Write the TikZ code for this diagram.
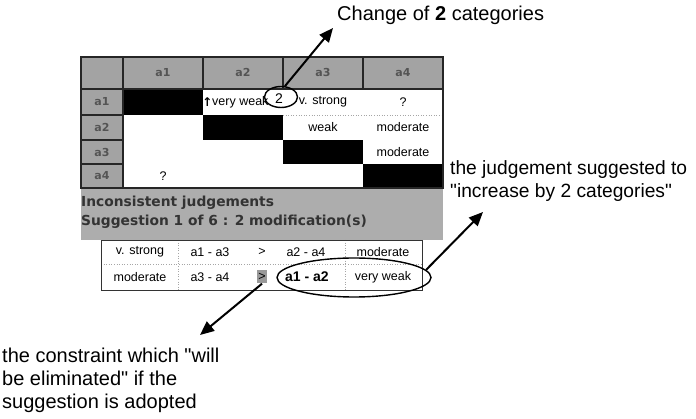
\documentclass[tikz,border=0pt]{standalone}
\usepackage{fontspec}
\setmainfont{Liberation Sans}
\newfontfamily\dvs{DejaVu Sans}
\usetikzlibrary{arrows.meta,shapes.geometric}
\definecolor{hdrgray}{gray}{0.64}
\definecolor{pnlgray}{gray}{0.68}
\definecolor{lblgray}{gray}{0.33}
\begin{document}
\begin{tikzpicture}[x=1pt,y=-1pt,
  cell/.style={font=\fontsize{12.5}{14}\selectfont, inner sep=0pt},
  hlabel/.style={font=\dvs\bfseries\fontsize{11}{13}\selectfont, text=lblgray, inner sep=0pt},
  note/.style={font=\fontsize{20}{23}\selectfont, align=left, inner sep=0pt},
  pnltext/.style={font=\dvs\bfseries\fontsize{13.8}{16}\selectfont, text=black!80, inner sep=0pt, anchor=west},
  gridline/.style={draw=black!85, line width=1.3pt},
  thinline/.style={draw=black!80, line width=0.8pt},
  dotline/.style={draw=black!35, dotted, line width=0.6pt},
  arr/.style={-{Triangle[length=14pt,width=12pt]}, line width=2pt},
  ring/.style={draw, ellipse, line width=1.4pt, inner sep=0pt}
]
\useasboundingbox (0,0) rectangle (696,419);
\fill[white] (0,0) rectangle (696,419);

% ---- matrix table ----
\fill[hdrgray] (81,57) rectangle (443,89);
\fill[hdrgray] (81,89) rectangle (123,188);
\fill[pnlgray] (81,188) rectangle (443,240);
\fill[white] (123,89) rectangle (443,188);
\fill[black] (123,89) rectangle (203,115);
\fill[black] (203,115) rectangle (283,140);
\fill[black] (283,140) rectangle (363,164);
\fill[black] (363,164) rectangle (443,188);
\draw[dotline] (283,115) -- (443,115);
\draw[gridline] (81,57) rectangle (443,188);
\draw[gridline] (123,57) -- (123,188);
\draw[gridline] (203,57) -- (203,89);
\draw[gridline] (283,57) -- (283,89);
\draw[gridline] (363,57) -- (363,89);
\draw[gridline] (81,89) -- (443,89);
\draw[gridline] (81,115) -- (123,115);
\draw[gridline] (81,140) -- (123,140);
\draw[gridline] (81,164) -- (123,164);

\node[hlabel] (h1) at (163,73) {a1};
\node[hlabel] (h2) at (243,73) {a2};
\node[hlabel] (h3) at (323,73) {a3};
\node[hlabel] (h4) at (403,73) {a4};
\node[hlabel] (r1) at (102,102) {a1};
\node[hlabel] (r2) at (102,127.5) {a2};
\node[hlabel] (r3) at (102,152) {a3};
\node[hlabel] (r4) at (102,176) {a4};

\node[cell, font=\dvs\bfseries\fontsize{12}{14}\selectfont] (up) at (207.5,102) {↑};
\node[cell, anchor=west] (c12) at (212,102) {very weak};
\node[cell] (c13) at (323,102) {v. strong};
\node[cell] (c14) at (403,102) {?};
\node[cell] (c23) at (323,127.5) {weak};
\node[cell] (c24) at (403,127.5) {moderate};
\node[cell] (c34) at (403,152) {moderate};
\node[cell] (c41) at (163,176) {?};
\node[cell, font=\fontsize{14}{16}\selectfont] (two) at (279,99) {2};
\node[ring, minimum width=33pt, minimum height=21pt] (e2) at (281,97) {};

% ---- panel ----
\node[pnltext] (p1) at (81,203) {Inconsistent judgements};
\node[pnltext] (p2) at (81,222) {Suggestion 1 of 6 : 2 modification(s)};

% ---- suggestion table ----
\fill[white] (101,240) rectangle (422,290);
\draw[dotline] (101,264) -- (422,264);
\draw[dotline] (178,240) -- (178,290);
\draw[dotline] (345,240) -- (345,290);
\draw[thinline] (101,240) rectangle (422,290);
\node[cell] (s11) at (140,252) {v. strong};
\node[cell] (s12) at (210,252) {a1 - a3};
\node[cell] (s13) at (262,252) {>};
\node[cell] (s14) at (306,252) {a2 - a4};
\node[cell] (s15) at (383,252) {moderate};
\node[cell] (s21) at (140,277) {moderate};
\node[cell] (s22) at (210,277) {a3 - a4};
\node[cell, fill=black!40, minimum width=10pt, minimum height=13pt] (gt) at (262,277) {>};
\node[cell, font=\bfseries\fontsize{14}{16}\selectfont] (s24) at (307,277) {a1 - a2};
\node[cell] (s25) at (383,277) {very weak};
\node[ring, minimum width=154pt, minimum height=39pt] (e1) at (354,277.5) {};

% ---- annotations ----
\node[note, anchor=west] (n1) at (337,15) {Change of \textbf{2} categories};
\node[note, anchor=west, font=\fontsize{19.2}{23}\selectfont] (n2) at (450,181.5) {the judgement suggested to\\\textquotedbl increase by 2 categories\textquotedbl};
\node[note, anchor=west] (n3) at (2,380) {the constraint which \textquotedbl will\\be eliminated\textquotedbl{} if the\\suggestion is adopted};

\coordinate (t1) at (333,28);
\coordinate (t2) at (483,212);
\coordinate (t3) at (200,335);
\draw[arr] (e2.70) -- (t1);
\draw[arr] (e1.6) -- (t2);
\draw[arr] (gt.south) -- (t3);
\end{tikzpicture}
\end{document}
